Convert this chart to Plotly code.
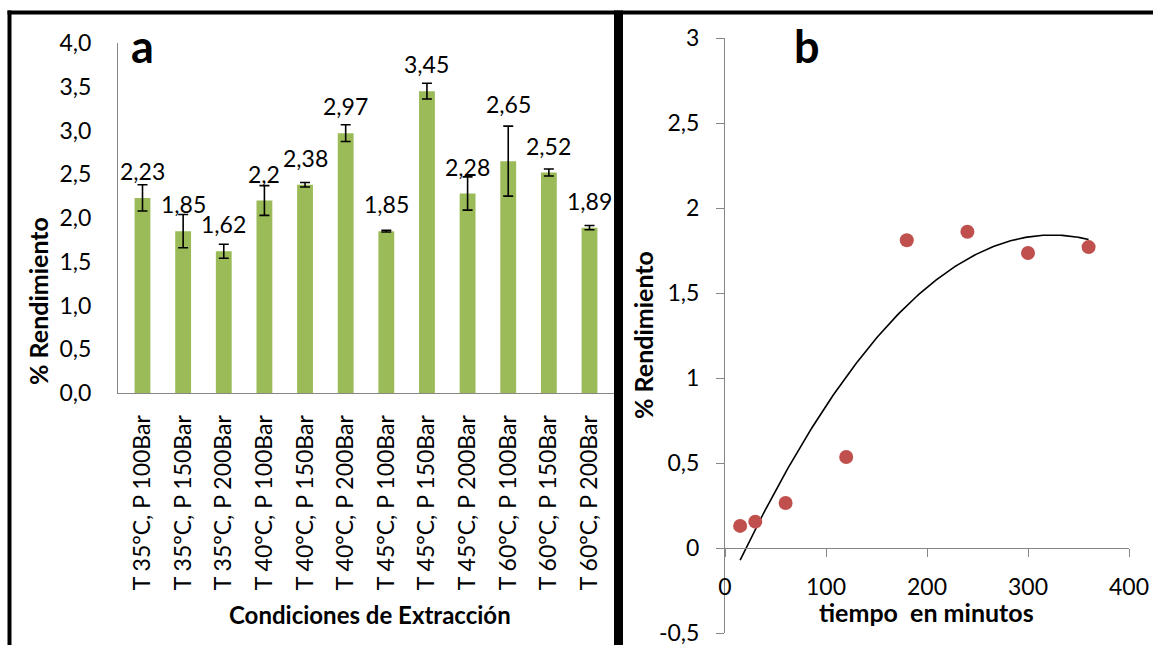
import numpy as np
import plotly.graph_objects as go

W, H = 1153, 645

# ---- Panel a data ----
categories = ["T 35°C, P 100Bar", "T 35°C, P 150Bar", "T 35°C, P 200Bar",
              "T 40°C, P 100Bar", "T 40°C, P 150Bar", "T 40°C, P 200Bar",
              "T 45°C, P 100Bar", "T 45°C, P 150Bar", "T 45°C, P 200Bar",
              "T 60°C, P 100Bar", "T 60°C, P 150Bar", "T 60°C, P 200Bar"]
rendimiento = [2.23, 1.85, 1.62, 2.2, 2.38, 2.97, 1.85, 3.45, 2.28, 2.65, 2.52, 1.89]
errores = [0.15, 0.19, 0.08, 0.17, 0.025, 0.095, 0.01, 0.09, 0.19, 0.40, 0.04, 0.025]

# ---- Panel b data ----
tiempo = [15, 30, 60, 120, 180, 240, 300, 360]
rend_t = [0.13, 0.155, 0.265, 0.535, 1.81, 1.86, 1.735, 1.77]
y_tickvals = [-0.5, 0, 0.5, 1, 1.5, 2, 2.5, 3]
y_ticktext = ["-0,5", "0", "0,5", "1", "1,5", "2", "2,5", "3"]

FONT = "Lato"
GRAY = "#868686"

def px_x(p):
    return p / W

def px_y(p):
    return 1 - p / H

fig = go.Figure()

fig.add_trace(go.Bar(
    x=categories, y=rendimiento, marker_color="#9BBB59",
    marker_line_width=0, width=0.39,
    error_y=dict(type="data", array=errores, visible=True, color="black",
                 thickness=1.6, width=5),
    xaxis="x", yaxis="y", showlegend=False,
))

# the label of the bar with the large error bar was lifted above it in the original
label_lift = {"T 60°C, P 100Bar": 57}
for c, v in zip(categories, rendimiento):
    fig.add_annotation(x=c, y=v, xref="x", yref="y", text=str(v).replace(".", ","),
                       showarrow=False, xanchor="center", yanchor="middle",
                       yshift=label_lift.get(c, 27),
                       font=dict(family=FONT, size=23, color="black"))

# trendline: 2nd-order polynomial fit (as in the spreadsheet trendline)
coef = np.polyfit(tiempo, rend_t, 2)
xt = np.linspace(min(tiempo), max(tiempo), 200)
yt = np.polyval(coef, xt)
fig.add_trace(go.Scatter(x=xt, y=yt, mode="lines", line=dict(color="black", width=1.6),
                         xaxis="x2", yaxis="y2", showlegend=False, hoverinfo="skip"))
fig.add_trace(go.Scatter(x=tiempo, y=rend_t, mode="markers",
                         marker=dict(color="#C0504D", size=14),
                         xaxis="x2", yaxis="y2", showlegend=False))

fig.update_layout(
    width=W, height=H, margin=dict(l=0, r=0, t=0, b=0), autosize=False,
    paper_bgcolor="white", plot_bgcolor="white",
    separators=",.",
    font=dict(family=FONT, size=20, color="black"),
    xaxis=dict(domain=[px_x(118), px_x(614)], showline=True, linecolor=GRAY, linewidth=1,
               tickangle=-90, ticks="", showgrid=False, ticklabelstandoff=12,
               tickfont=dict(size=23), anchor="y", automargin=False),
    yaxis=dict(domain=[px_y(393), px_y(43)], range=[0, 4], dtick=0.5, tickformat=".1f",
               showline=True, linecolor=GRAY, linewidth=1, ticks="", showgrid=False,
               zeroline=False, ticklabelstandoff=21, tickfont=dict(size=23), anchor="x",
               automargin=False),
    xaxis2=dict(domain=[px_x(725), px_x(1129)], range=[0, 400], dtick=100,
                showline=True, linecolor=GRAY, linewidth=1, ticks="outside", ticklen=8,
                tickcolor=GRAY, showgrid=False, zeroline=False,
                anchor="free", position=px_y(548), ticklabelstandoff=10,
                tickfont=dict(size=23), automargin=False, ticklabeloverflow="allow"),
    yaxis2=dict(domain=[px_y(633), px_y(38)], range=[-0.5, 3], tickvals=y_tickvals,
                ticktext=y_ticktext, showline=True, linecolor=GRAY, linewidth=1,
                ticks="outside", ticklen=8, tickcolor=GRAY, showgrid=False, zeroline=False,
                anchor="x2", ticklabelstandoff=12, tickfont=dict(size=23), automargin=False,
                ticklabeloverflow="allow"),
)

def label(x, y, text, size, angle=0):
    fig.add_annotation(xref="paper", yref="paper", x=px_x(x), y=px_y(y), text=text,
                       showarrow=False, xanchor="center", yanchor="middle", textangle=angle,
                       font=dict(family=FONT, size=size, color="black"))

# Titles / labels
label(370, 614, "<b>Condiciones de Extracción</b>", 24)
label(38, 301, "<b>% Rendimiento</b>", 25, -90)
label(926, 612, "<b>tiempo  en minutos</b>", 25)
label(643, 335, "<b>% Rendimiento</b>", 25, -90)
label(142, 46, "<b>a</b>", 45)
label(807, 46, "<b>b</b>", 45)

# Frame lines
fig.add_shape(type="line", xref="paper", yref="paper", x0=px_x(9.5), x1=px_x(9.5), y0=0, y1=px_y(10.5),
              line=dict(color="black", width=4))
fig.add_shape(type="line", xref="paper", yref="paper", x0=px_x(7.5), x1=1, y0=px_y(12.5), y1=px_y(12.5),
              line=dict(color="black", width=4))
fig.add_shape(type="line", xref="paper", yref="paper", x0=px_x(618.5), x1=px_x(618.5), y0=0, y1=px_y(10.5),
              line=dict(color="black", width=9))

fig.write_html("out.html")
